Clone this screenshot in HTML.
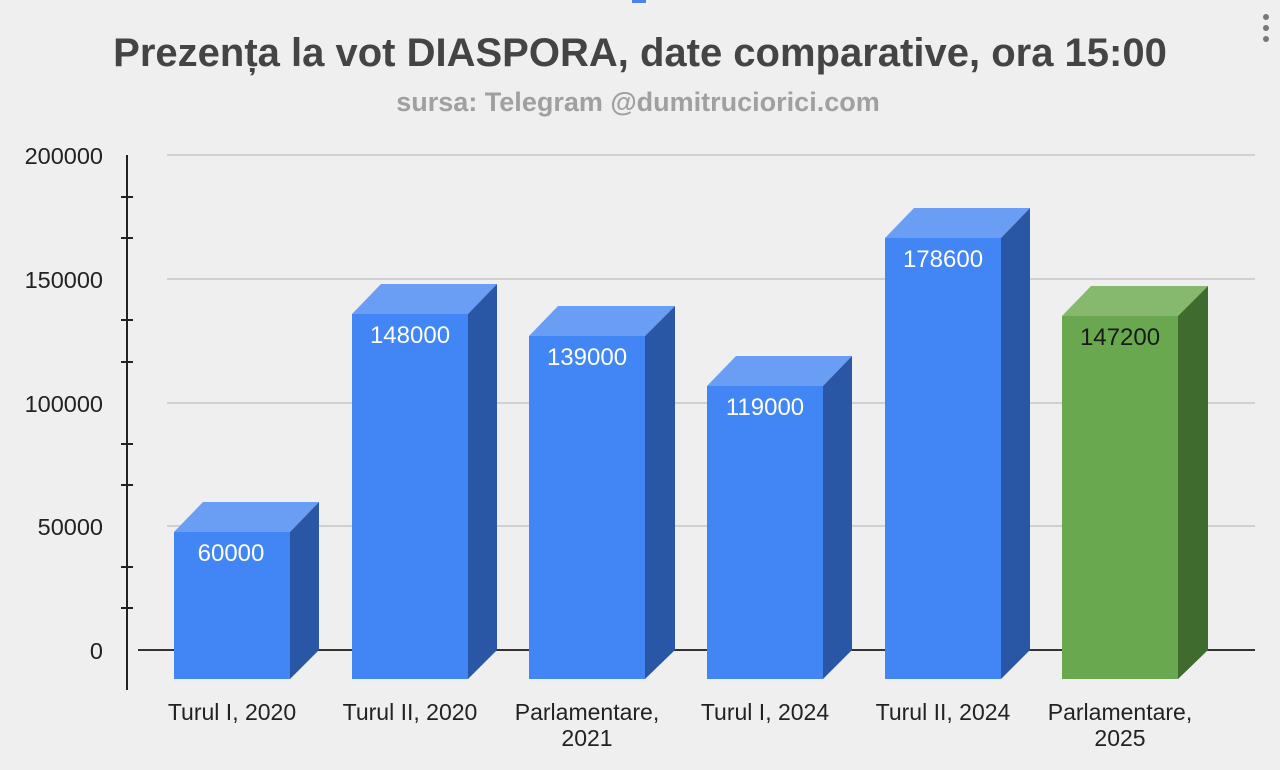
<!DOCTYPE html>
<html><head><meta charset="utf-8"><style>
html,body{margin:0;padding:0;background:#efefef;}
svg{display:block;}
text{font-family:"Liberation Sans",Arial,sans-serif;}
</style></head><body>
<svg width="1280" height="770" viewBox="0 0 1280 770" xmlns="http://www.w3.org/2000/svg">
<rect width="1280" height="770" fill="#efefef"/>
<rect x="632" y="0" width="14" height="3" fill="#4a86e8"/>
<circle cx="1266" cy="17" r="3" fill="#777"/><circle cx="1266" cy="28" r="3" fill="#777"/><circle cx="1266" cy="39" r="3" fill="#777"/>
<text x="640" y="66" text-anchor="middle" font-size="40" font-weight="bold" fill="#444">Prezența la vot DIASPORA, date comparative, ora 15:00</text>
<text x="638" y="111" text-anchor="middle" font-size="27" font-weight="bold" fill="#a0a0a0">sursa: Telegram @dumitruciorici.com</text>
<g stroke="#c6c6c6" stroke-width="1.5">
<line x1="167" y1="155" x2="1255" y2="155"/><line x1="167" y1="279" x2="1255" y2="279"/><line x1="167" y1="403" x2="1255" y2="403"/><line x1="167" y1="526" x2="1255" y2="526"/>
</g>
<line x1="138" y1="650" x2="1255" y2="650" stroke="#333" stroke-width="2"/>
<line x1="127" y1="155" x2="127" y2="690" stroke="#222" stroke-width="2"/>
<g stroke="#222" stroke-width="2">
<line x1="121" y1="197" x2="133" y2="197"/><line x1="121" y1="238" x2="133" y2="238"/><line x1="121" y1="320" x2="133" y2="320"/><line x1="121" y1="362" x2="133" y2="362"/><line x1="121" y1="444" x2="133" y2="444"/><line x1="121" y1="485" x2="133" y2="485"/><line x1="121" y1="567" x2="133" y2="567"/><line x1="121" y1="608" x2="133" y2="608"/>
</g>
<g font-size="23.5" fill="#222" text-anchor="end">
<text x="103" y="164">200000</text><text x="103" y="288">150000</text><text x="103" y="412">100000</text><text x="103" y="535">50000</text><text x="103" y="659">0</text>
</g>
<g>
<polygon points="174,532 290,532 319,502 203,502" fill="#6a9ef5"/><polygon points="290,532 319,502 319,650 290,679" fill="#2a56a6"/><rect x="174" y="532" width="116" height="147" fill="#4285f4"/>
<polygon points="352,314 468,314 497,284 381,284" fill="#6a9ef5"/><polygon points="468,314 497,284 497,650 468,679" fill="#2a56a6"/><rect x="352" y="314" width="116" height="365" fill="#4285f4"/>
<polygon points="529,336 645,336 675,306 558,306" fill="#6a9ef5"/><polygon points="645,336 675,306 675,650 645,679" fill="#2a56a6"/><rect x="529" y="336" width="116" height="343" fill="#4285f4"/>
<polygon points="707,386 823,386 852,356 736,356" fill="#6a9ef5"/><polygon points="823,386 852,356 852,650 823,679" fill="#2a56a6"/><rect x="707" y="386" width="116" height="293" fill="#4285f4"/>
<polygon points="885,238 1001,238 1030,208 914,208" fill="#6a9ef5"/><polygon points="1001,238 1030,208 1030,650 1001,679" fill="#2a56a6"/><rect x="885" y="238" width="116" height="441" fill="#4285f4"/>
<polygon points="1062,316 1178,316 1208,286 1091,286" fill="#86b86e"/><polygon points="1178,316 1208,286 1208,650 1178,679" fill="#3f6b2e"/><rect x="1062" y="316" width="116" height="363" fill="#6aa84f"/>
</g>
<g font-size="24" fill="#fff" text-anchor="middle">
<text x="231" y="561">60000</text><text x="410" y="343">148000</text><text x="587" y="365">139000</text><text x="765" y="415">119000</text><text x="943" y="267">178600</text><text x="1120" y="345" fill="#1a1a1a">147200</text>
</g>
<g font-size="23" fill="#222" text-anchor="middle">
<text x="232" y="720">Turul I, 2020</text><text x="410" y="720">Turul II, 2020</text><text x="587" y="720">Parlamentare,</text><text x="587" y="746">2021</text><text x="765" y="720">Turul I, 2024</text><text x="943" y="720">Turul II, 2024</text><text x="1120" y="720">Parlamentare,</text><text x="1120" y="746">2025</text>
</g>
</svg>
</body></html>
